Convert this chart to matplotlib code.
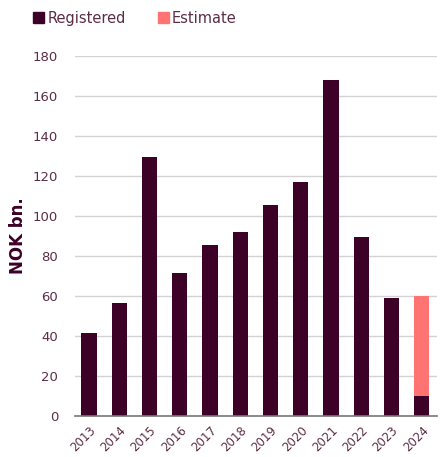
import numpy as np
import matplotlib.pyplot as plt
from matplotlib.patches import Patch

years = ['2013', '2014', '2015', '2016', '2017', '2018', '2019', '2020',
         '2021', '2022', '2023', '2024']
registered = [41.5, 56.5, 129.5, 71.5, 85.5, 92, 105.5, 117, 168, 89.5, 59, 10]
estimate = [0, 0, 0, 0, 0, 0, 0, 0, 0, 0, 0, 50]

dark = '#3d0026'
salmon = '#ff7373'
txt = '#5b2d47'

fig = plt.figure(figsize=(4.48, 4.57), dpi=100)
ax = fig.add_axes([0.167, 0.09, 0.808, 0.788])

x = np.arange(len(years))
ax.bar(x, registered, width=0.5, color=dark, zorder=3)
ax.bar(x, estimate, width=0.5, bottom=registered, color=salmon, zorder=3)

ax.set_ylim(0, 180)
ax.set_xlim(-0.47, 11.5)
ax.set_yticks(range(0, 181, 20))
ax.set_xticks(x)
ax.set_xticklabels(years, rotation=45, ha='right', rotation_mode='anchor')
ax.tick_params(axis='x', length=0, pad=6, labelsize=8.5, colors=txt)
ax.tick_params(axis='y', length=0, pad=12, labelsize=9.5, colors=txt)
ax.grid(axis='y', color='#d3d3d3', linewidth=1, zorder=0)
for s in ['top', 'right', 'left']:
    ax.spines[s].set_visible(False)
ax.spines['bottom'].set_color('#777777')
ax.spines['bottom'].set_linewidth(1.2)
ax.spines['bottom'].set_zorder(4)

ax.set_ylabel('NOK bn.', fontsize=12, fontweight='bold', color=dark, labelpad=4)

handles = [Patch(color=dark, label='Registered'), Patch(color=salmon, label='Estimate')]
fig.legend(handles=handles, loc='upper left', bbox_to_anchor=(0.045, 1.005), ncol=2,
           frameon=False, fontsize=10.5, handlelength=0.75, handleheight=0.75,
           handletextpad=0.2, columnspacing=2.2, labelcolor=txt)

fig.savefig('out.png', dpi=100)
